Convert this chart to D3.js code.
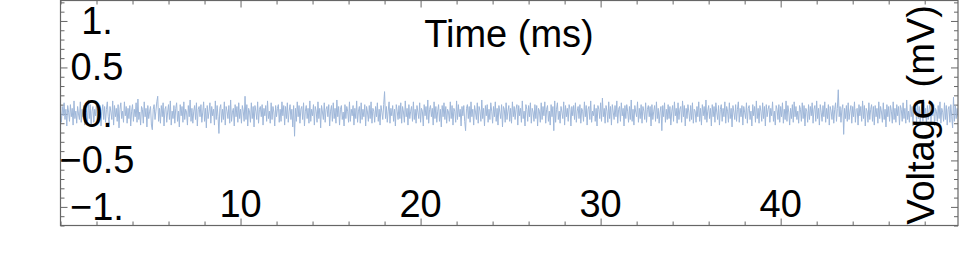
<!DOCTYPE html>
<html>
<head>
<meta charset="utf-8">
<script src="https://cdn.jsdelivr.net/npm/d3@7"></script>
<style>
  html, body { margin: 0; padding: 0; background: #fff; }
  svg { display: block; }
  text { font-family: "Liberation Sans", Arial, sans-serif; fill: #000; }
</style>
</head>
<body>
<svg id="chart" width="960" height="264"></svg>
<script>
// ---- data (voltage trace, mV, sampled every 0.05 ms) ----
const sampleStepMs = 0.05;
const voltage = [
.03,-.09,.08,-.02,.12,-.06,.05,-.13,.09,.02,-.08,.10,-.03,.06,-.12,.14,-.05,.03,-.10,.08,.00,-.06,.13,-.09,.05,
-.03,.09,-.12,.06,.02,-.08,.15,-.05,.10,-.14,.03,.08,-.09,.05,-.02,.12,-.10,.06,-.05,.09,-.13,.03,.10,-.06,.08,
-.09,.05,.13,-.03,-.10,.08,.02,-.06,.14,-.12,.09,-.03,.06,-.08,.10,-.15,.05,.12,-.05,.03,-.09,.13,-.02,.08,-.10,
.06,-.05,.09,-.13,.03,.10,-.08,.05,-.03,.12,-.09,.16,-.06,.02,-.12,.08,.05,-.10,.13,-.03,.06,-.14,.09,-.05,.03,
.08,-.12,-.17,.05,.10,-.06,.03,.13,.19,-.08,.06,-.10,.09,-.03,.12,-.13,.05,.08,-.09,.02,.10,-.06,.14,-.12,.03,
-.05,.09,-.10,.06,.12,-.08,.03,-.14,.10,-.02,.08,-.09,.13,-.06,.05,.02,-.12,.09,-.03,.15,-.08,.06,-.10,.03,.09,
-.06,.12,-.13,.05,.08,-.03,.10,-.09,.02,.13,-.08,.06,-.15,.09,-.05,.03,.12,-.10,.08,-.02,.05,-.12,.14,-.06,.09,
-.03,-.21,.06,.10,-.09,.05,-.06,.13,-.12,.08,.03,-.05,.09,-.10,.15,-.08,.02,.06,-.13,.10,-.03,.08,-.09,.12,-.05,
.05,-.10,.09,.03,-.08,.19,-.06,.10,-.13,.06,.02,-.09,.12,-.05,.08,-.14,.09,.03,-.06,.13,-.10,.05,.08,-.03,.10,
-.12,.06,-.02,.09,-.08,.14,-.05,.03,-.10,.12,-.06,.08,.02,-.13,.09,-.03,.06,.10,-.09,.05,-.08,.13,-.02,.09,-.12,
.08,-.05,.12,-.09,.03,.10,-.06,.05,-.14,.09,-.24,.06,-.08,.13,-.03,.09,-.10,.05,.08,-.06,.12,-.13,.03,.09,-.05,
.06,-.10,.14,-.08,.05,-.02,.10,-.12,.08,.03,-.09,.13,-.05,.06,-.15,.09,.02,-.06,.12,-.09,.05,.08,-.03,.10,-.13,
.03,.09,-.08,.12,-.05,.06,-.10,.15,-.03,.08,-.12,.05,.09,-.06,.02,-.13,.10,-.05,.08,.03,-.09,.13,-.08,.05,-.02,
.09,-.12,.06,-.05,.14,-.09,.03,.08,-.10,.12,-.06,.05,-.03,.10,-.13,.08,.02,-.08,.09,-.05,.13,-.10,.06,.03,-.09,
.08,-.03,.12,-.08,.05,-.12,.09,.02,-.06,.10,.24,-.05,.08,-.09,.03,.13,-.10,.06,-.02,.09,-.08,.05,-.13,.10,.03,
-.06,.09,-.05,.12,-.10,.08,.02,-.09,.14,-.03,.06,-.12,.10,-.05,.03,.08,-.08,.13,-.06,.05,-.10,.09,.02,-.05,.12,
-.09,.06,.03,-.13,.10,-.02,.08,-.06,.15,-.10,.05,.09,-.03,.06,-.12,.13,-.05,.08,-.09,.03,.10,-.08,.05,-.14,.09,
-.03,.12,-.06,.08,-.10,.05,.02,-.08,.13,-.05,.09,-.12,.06,.03,-.09,.14,-.06,.10,-.03,.05,-.13,.08,-.02,.09,-.08,
-.18,.06,.10,-.05,.08,-.09,.13,-.03,.05,-.12,.09,.02,-.06,.12,-.10,.08,.03,-.08,.15,-.05,.06,-.13,.09,-.02,.10,
-.09,.05,-.06,.12,.03,-.10,.08,-.03,.13,-.08,.06,-.12,.09,.02,-.05,.10,-.14,.08,.05,-.09,.12,-.06,.03,.09,-.08,
.06,-.10,.13,-.03,.08,-.06,.05,.10,-.12,.09,-.02,.06,-.09,.14,-.05,.03,-.13,.10,.05,-.08,.09,-.03,.12,-.10,.06,
.02,-.08,.10,-.05,.09,-.13,.06,.03,-.09,.12,-.06,.08,-.02,.13,-.10,.05,.09,-.08,.03,-.12,.10,-.03,.08,-.18,.14,
-.09,.05,.12,-.06,.03,-.10,.08,.02,-.05,.13,-.12,.09,-.03,.06,-.08,.10,.05,-.13,.08,-.02,.09,-.06,.12,-.09,.03,
.08,-.05,.10,-.10,.06,.03,-.08,.13,-.03,.09,-.12,.05,.08,-.06,.14,-.09,.03,-.02,.10,-.08,.06,-.13,.09,.05,-.05,
.12,-.08,.17,-.03,.06,-.10,.09,.03,-.09,.13,-.05,.08,-.12,.10,.02,-.06,.09,-.03,.14,-.10,.05,.08,-.08,.12,-.02,
.06,-.13,.09,-.05,.10,.03,-.09,.08,-.06,.15,-.08,.05,-.12,.09,.02,-.03,.13,-.09,.06,-.05,.10,-.10,.08,.03,-.06,
.12,-.09,.05,.09,-.03,.08,-.13,.10,-.06,.03,.09,-.08,.13,-.05,.06,-.10,.02,.08,-.18,.09,-.03,.12,-.09,.05,-.06,
.10,-.05,.08,-.12,.03,.09,-.08,.13,-.02,.06,-.10,.12,-.06,.05,.08,-.09,.14,-.03,.09,-.13,.06,-.05,.10,.02,-.08,
.09,-.06,.12,-.10,.05,.03,-.09,.08,-.03,.13,-.08,.06,-.12,.10,-.02,.08,-.06,.15,-.09,.03,.09,-.05,.06,-.13,.10,
-.03,.08,-.09,.12,.02,-.06,.09,-.12,.05,.10,-.08,.06,-.03,.13,-.10,.08,.03,-.09,.12,-.05,.06,-.14,.09,.02,-.06,
.10,-.08,.05,.13,-.09,.06,-.03,.09,-.12,.08,.02,-.05,.12,-.10,.06,.09,-.06,.03,-.13,.10,-.02,.08,-.09,.14,-.05,
.06,-.10,.09,.03,-.08,.12,-.05,.08,-.13,.10,-.03,.05,.09,-.09,.06,-.02,.13,-.08,.03,-.12,.09,.05,-.06,.10,-.09,
.08,-.03,.12,-.10,.05,-.06,.14,-.08,.09,.02,-.12,.06,-.05,.10,-.09,.13,-.03,.08,-.06,.03,-.10,.09,.05,-.08,.12,
-.05,.09,-.13,.06,.03,-.09,.10,-.06,.08,-.02,.12,-.10,.05,.09,-.08,.14,-.05,.06,-.12,.10,.02,-.08,.09,-.03,.13,
-.09,.06,-.05,.10,-.12,.08,.03,-.06,.09,-.10,.05,.12,-.08,.06,.26,-.03,.08,-.09,.05,.10,-.22,.06,-.05,.09,-.08,
.12,-.06,.03,.09,-.10,.08,-.03,.13,-.09,.05,.06,-.12,.10,-.02,.08,-.08,.14,-.05,.09,-.13,.06,.03,-.09,.12,-.06,
.05,.10,-.08,.08,-.12,.09,-.03,.06,-.10,.13,-.05,.08,.02,-.09,.12,-.06,.05,-.14,.10,-.03,.08,-.08,.09,.03,-.10,
.13,-.06,.06,-.09,.10,-.02,.08,-.12,.09,.05,-.08,.12,-.05,.06,-.10,.15,-.06,.03,-.09,.10,-.03,.08,-.13,.09,.02,
.06,-.09,.12,-.05,.08,-.10,.03,.10,-.08,.13,-.03,.06,-.12,.09,-.06,.05,.12,-.09,.08,-.02,.10,-.13,.06,.03,-.08,
.09,-.05,.13,-.10,.06,.02,-.08,.12,-.06,.09,-.12,.05,.08,-.09,.10,-.03,-.15,.18,-.08,.09,-.05,.06,-.03
];
const xDomain = [0, 49.85];
const yDomain = [-1.2, 1.22];
const xMajorTicks = [10, 20, 30, 40];
const xTickLabels = ["10", "20", "30", "40"];
const yMajorTicks = [-1, -0.5, 0, 0.5, 1];
const yTickLabels = ["\u22121.", "\u22120.5", "0.", "0.5", "1."];
const xAxisTitle = "Time (ms)";
const yAxisTitle = "Voltage (mV)";

// ---- layout ----
const plotL = 60.5, plotR = 958, plotT = 0.5, plotB = 225.5;
const svg = d3.select("#chart");

const x = d3.scaleLinear().domain(xDomain).range([plotL, plotR]);
const y = d3.scaleLinear().domain(yDomain).range([plotB, plotT]);

const xMinor = d3.range(0, 50, 2).filter(v => !xMajorTicks.includes(v));
const yMinor = d3.range(-12, 13, 1).map(v => v / 10).filter(v => !yMajorTicks.some(m => Math.abs(m - v) < 1e-9));

const tickColor = "#666";
function styleAxis(g) {
  g.select(".domain").remove();
  g.selectAll("line").attr("stroke", tickColor).attr("stroke-width", 1);
  g.selectAll("text").remove();
}

const axes = svg.append("g");
axes.append("g").attr("transform", `translate(0,${plotB})`)
  .call(d3.axisBottom(x).tickValues(xMajorTicks).tickSizeInner(-7).tickSizeOuter(0)).call(styleAxis);
axes.append("g").attr("transform", `translate(0,${plotB})`)
  .call(d3.axisBottom(x).tickValues(xMinor).tickSizeInner(-4).tickSizeOuter(0)).call(styleAxis);
axes.append("g").attr("transform", `translate(0,${plotT})`)
  .call(d3.axisTop(x).tickValues(xMajorTicks).tickSizeInner(-7).tickSizeOuter(0)).call(styleAxis);
axes.append("g").attr("transform", `translate(0,${plotT})`)
  .call(d3.axisTop(x).tickValues(xMinor).tickSizeInner(-4).tickSizeOuter(0)).call(styleAxis);
axes.append("g").attr("transform", `translate(${plotL},0)`)
  .call(d3.axisLeft(y).tickValues(yMajorTicks).tickSizeInner(-7).tickSizeOuter(0)).call(styleAxis);
axes.append("g").attr("transform", `translate(${plotL},0)`)
  .call(d3.axisLeft(y).tickValues(yMinor).tickSizeInner(-4).tickSizeOuter(0)).call(styleAxis);
axes.append("g").attr("transform", `translate(${plotR},0)`)
  .call(d3.axisRight(y).tickValues(yMajorTicks).tickSizeInner(-7).tickSizeOuter(0)).call(styleAxis);
axes.append("g").attr("transform", `translate(${plotR},0)`)
  .call(d3.axisRight(y).tickValues(yMinor).tickSizeInner(-4).tickSizeOuter(0)).call(styleAxis);

// ---- trace ----
svg.append("clipPath").attr("id", "plotclip")
  .append("rect").attr("x", plotL).attr("y", plotT).attr("width", plotR - plotL).attr("height", plotB - plotT);

const line = d3.line()
  .x((d, i) => x(i * sampleStepMs))
  .y(d => y(d));

svg.append("path")
  .datum(voltage)
  .attr("clip-path", "url(#plotclip)")
  .attr("fill", "none")
  .attr("stroke", "#9fb7d9")
  .attr("stroke-width", 1)
  .attr("stroke-linejoin", "round")
  .attr("d", line);

// ---- frame ----
svg.append("rect")
  .attr("x", plotL).attr("y", plotT)
  .attr("width", plotR - plotL).attr("height", plotB - plotT)
  .attr("fill", "none").attr("stroke", tickColor).attr("stroke-width", 1.2);

// ---- labels ----
const fs = 38;
svg.append("g").selectAll("text")
  .data(yMajorTicks)
  .join("text")
  .attr("x", 97)
  .attr("y", d => y(d) + 13)
  .attr("text-anchor", "middle")
  .attr("font-size", fs)
  .text((d, i) => yTickLabels[i]);

svg.append("g").selectAll("text")
  .data(xMajorTicks)
  .join("text")
  .attr("x", d => x(d))
  .attr("y", 217)
  .attr("text-anchor", "middle")
  .attr("font-size", fs)
  .text((d, i) => xTickLabels[i]);

svg.append("text")
  .attr("x", 509).attr("y", 47)
  .attr("text-anchor", "middle")
  .attr("font-size", fs)
  .text(xAxisTitle);

svg.append("text")
  .attr("transform", `translate(934,115) rotate(-90)`)
  .attr("text-anchor", "middle")
  .attr("font-size", fs)
  .text(yAxisTitle);
</script>
</body>
</html>
